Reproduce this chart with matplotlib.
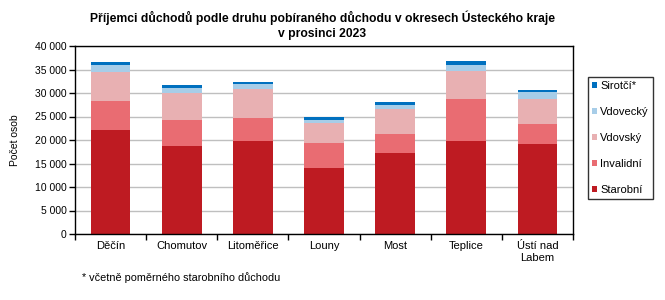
import numpy as np
import matplotlib
matplotlib.use("Agg")
import matplotlib.pyplot as plt
from matplotlib.ticker import FuncFormatter, FixedLocator

plt.rcParams['font.family'] = ['Liberation Sans', 'DejaVu Sans']

districts = ["Děčín", "Chomutov", "Litoměřice", "Louny", "Most", "Teplice", "Ústí nad\nLabem"]
starobni = [22200, 18800, 19870, 14100, 17300, 19870, 19230]
invalidni = [6200, 5550, 4900, 5340, 4060, 8760, 4270]
vdovsky = [6000, 5650, 5980, 4280, 5130, 5970, 5270]
vdovecky = [1550, 1000, 1070, 640, 1060, 1300, 1360]
sirotci = [550, 600, 420, 640, 640, 850, 430]

series = [("Starobní", starobni, "#BE1B22"),
          ("Invalidní", invalidni, "#E96C72"),
          ("Vdovský", vdovsky, "#E8B0B2"),
          ("Vdovecký", vdovecky, "#A7CDE8"),
          ("Sirotčí*", sirotci, "#0070BF")]

fig = plt.figure(figsize=(6.65, 3.0), dpi=100)
ax = fig.add_axes([75/665, 1-234/300, (573-75)/665, (234-46)/300])

x = np.arange(len(districts))
bottom = np.zeros(len(districts))
handles = []
for name, vals, col in series:
    b = ax.bar(x, vals, 0.56, bottom=bottom, color=col, label=name, zorder=2)
    handles.append(b)
    bottom += np.array(vals)

ax.set_xlim(-0.5, len(districts) - 0.5)
ax.set_ylim(0, 40000)
ax.set_yticks(np.arange(0, 40001, 5000))
ax.yaxis.set_major_formatter(FuncFormatter(lambda v, p: f"{int(v):,}".replace(",", " ")))
ax.grid(axis='y', color='#BFBFBF', linewidth=1, zorder=0)
ax.set_xticks(x)
ax.set_xticklabels(districts, fontsize=8)
ax.tick_params(axis='x', length=0, pad=5)
ax.xaxis.set_minor_locator(FixedLocator(np.arange(-0.5, len(districts), 1)))
ax.tick_params(axis='x', which='minor', length=4, width=1)
ax.tick_params(axis='y', labelsize=7.5, length=4, width=1, pad=2)
for s in ax.spines.values():
    s.set_color('black')
    s.set_linewidth(1)

ax.set_ylabel("Počet osob", fontsize=7.5, labelpad=11)

fig.text(0.485, 0.965, "Příjemci důchodů podle druhu pobíraného důchodu v okresech Ústeckého kraje\nv prosinci 2023",
         ha='center', va='top', fontsize=8.7, fontweight='bold', linespacing=1.3)

leg = ax.legend(handles[::-1], [s[0] for s in series][::-1], loc='upper left',
                bbox_to_anchor=(588/665, 1-77/300), bbox_transform=fig.transFigure,
                fontsize=8, frameon=True, fancybox=False, edgecolor='black',
                handlelength=0.45, handleheight=0.45, handletextpad=0.3,
                labelspacing=1.45, borderpad=0.35, borderaxespad=0)
leg.get_frame().set_linewidth(1)

fig.text(82/665, 1-278/300, "* včetně poměrného starobního důchodu", fontsize=7.8, va='center')

fig.savefig("out.png", dpi=100)
